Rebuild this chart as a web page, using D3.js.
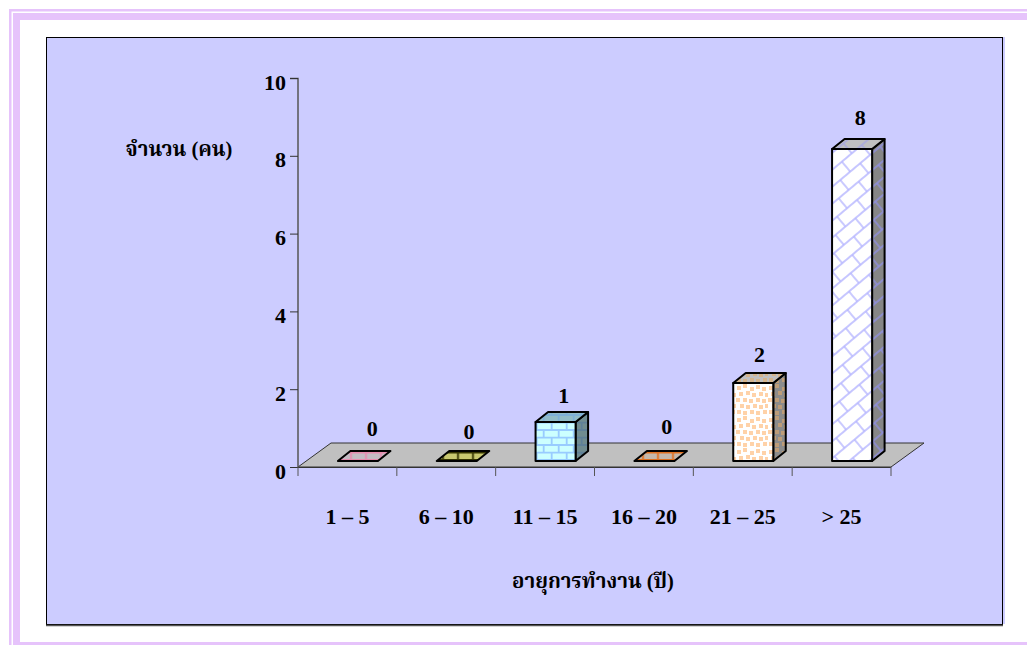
<!DOCTYPE html>
<html><head><meta charset="utf-8">
<script src="https://cdn.jsdelivr.net/npm/d3@7"></script>
<style>html,body{margin:0;padding:0;background:#fff;overflow:hidden}svg{display:block}
text{font-family:"Liberation Serif","Noto Serif Thai","Noto Sans Thai","DejaVu Serif",serif;font-weight:bold;fill:#000}</style>
</head><body><svg id="c" width="1027" height="645"></svg>
<script>
const categories=["1 – 5","6 – 10","11 – 15","16 – 20","21 – 25","> 25"];
const values=[0,0,1,0,2,8];
const yTicks=[0,2,4,6,8,10];
const yTitle="จำนวน (คน)";
const xTitle="อายุการทำงาน (ปี)";
const labelNudgeX=[8,6,2,6,0,2];
const labelNudgeY=[-22,-19,-16,-24,-18,-21];

const W=1027,H=645;
const svg=d3.select("#c");
const defs=svg.append("defs");
const lilac="#e6c3fb";

// page frame
const frame=svg.append("g");
[[9,9,W-9,2.5],[13,13,W-13,7],[9,9,2.5,H-9],[13,13,7,H-13],[0,642,W,3]].forEach(r=>{
  frame.append("rect").attr("x",r[0]).attr("y",r[1]).attr("width",r[2]).attr("height",r[3]).attr("fill",lilac);
});
frame.append("rect").attr("x",0).attr("y",642).attr("width",9).attr("height",3).attr("fill","#fff");
frame.append("rect").attr("x",11.5).attr("y",642).attr("width",1.5).attr("height",3).attr("fill","#fff");

// panel
svg.append("rect").attr("x",47).attr("y",37).attr("width",958).attr("height",587).attr("fill","#ccccff");
svg.append("rect").attr("x",46.5).attr("y",37.5).attr("width",956).attr("height",587).attr("fill","#ccccff").attr("stroke","#000").attr("stroke-width",1);
svg.append("path").attr("d","M46 625.5H1003").attr("stroke","#555").attr("stroke-width",1.5).attr("fill","none");

// scales
const x=d3.scaleBand().domain(categories).range([298,891]);
const y=d3.scaleLinear().domain([0,10]).range([467,78]);
const barW=x.bandwidth()*0.405;

// floor
const floorDX=33,floorDY=-24;
const fp=d3.path();
fp.moveTo(x.range()[0],y(0));
fp.lineTo(x.range()[0]+floorDX,y(0)+floorDY);
fp.lineTo(x.range()[1]+floorDX,y(0)+floorDY);
fp.lineTo(x.range()[1],y(0));
fp.closePath();
svg.append("path").attr("d",fp.toString()).attr("fill","#c0c0c0").attr("stroke","#333").attr("stroke-width",1);

// patterns
function brick(id,base,line,ox){
  const p=defs.append("pattern").attr("id",id).attr("patternUnits","userSpaceOnUse").attr("width",15).attr("height",15).attr("x",ox||0);
  p.append("rect").attr("width",15).attr("height",15).attr("fill",base);
  p.append("path").attr("d","M0 2.7H15M0 10H15M11.7 2.7V10M3.7 10V15M3.7 0V2.7").attr("stroke",line).attr("stroke-width",1.8).attr("fill","none");
}
function diag(id,base,line){
  const p=defs.append("pattern").attr("id",id).attr("patternUnits","userSpaceOnUse").attr("width",26).attr("height",26).attr("patternTransform","rotate(-40)");
  p.append("rect").attr("width",26).attr("height",26).attr("fill",base);
  p.append("path").attr("d","M0 2H26M0 15H26M8 2V15M21 15V26M21 0V2").attr("stroke",line).attr("stroke-width",1.4).attr("fill","none");
}
function dots(id,base,c){
  const p=defs.append("pattern").attr("id",id).attr("patternUnits","userSpaceOnUse").attr("width",32).attr("height",32);
  p.append("rect").attr("width",32).attr("height",32).attr("fill",base);
  [[1,2],[7,0],[14,3],[20,1],[26,3],[3,8],[10,7],[16,9],[23,8],[29,9],[0,14],[7,14],[13,15],[20,14],[26,15],[4,20],[10,21],[17,20],[23,21],[29,20],[1,26],[7,27],[14,26],[20,27],[27,26]]
    .forEach(d=>p.append("rect").attr("x",d[0]).attr("y",d[1]).attr("width",4).attr("height",4).attr("fill",c));
}
brick("t0","#c4bcc4","#e88cb0",-5.7);
brick("t1","#c8c870","#333300",-3.7);
brick("f2","#ccffff","#99ccff"); brick("t2","#92bcc8","#7fb0d8"); brick("s2","#708c90","#5f8098");
brick("t3","#c4b8ac","#e07020",1.3);
dots("f4","#ffffff","#ffd2a8"); dots("t4","#c0c0c0","#d4b48c"); dots("s4","#8c8c8c","#bd9c78");
diag("f5","#ffffff","#b4b4ff"); diag("t5","#c0c0c0","#a8a8e0"); diag("s5","#868686","#8f8fe0");

// bars
const bars=svg.append("g").attr("stroke","#000").attr("stroke-width",2).attr("stroke-linejoin","round");
const fx=c=>x(c)+x.bandwidth()/2-barW/2+10.5;
const base=y(0)-6;
const h=v=>(y(0)-y(v))*1.0025;
const dx=12.5,dy=-10;
values.forEach((v,i)=>{
  const c=categories[i],x0=fx(c),x1=x0+barW,b=base,t=base-h(v);
  const g=bars.append("g");
  if(v>0){
    g.append("path").attr("d",`M${x1} ${t}L${x1+dx} ${t+dy}L${x1+dx} ${b+dy}L${x1} ${b}Z`).attr("fill",`url(#s${i})`);
    g.append("rect").attr("x",x0).attr("y",t).attr("width",barW).attr("height",b-t).attr("fill",`url(#f${i})`);
  }
  g.append("path").attr("d",`M${x0} ${t}L${x0+dx} ${t+dy}L${x1+dx} ${t+dy}L${x1} ${t}Z`).attr("fill",`url(#t${i})`);
});

// value labels
svg.append("g").selectAll("text").data(values).join("text")
  .attr("x",(v,i)=>fx(categories[i])+barW/2+dx/2+labelNudgeX[i])
  .attr("y",(v,i)=>base-h(v)+dy+labelNudgeY[i]+7)
  .attr("text-anchor","middle").attr("font-size",22).text(d=>d);

// y axis
const ya=svg.append("g").attr("transform","translate(298,0)")
  .call(d3.axisLeft(y).tickValues(yTicks).tickSize(8).tickPadding(4).tickFormat(d3.format("d")));
ya.selectAll(".domain").attr("stroke","#555").attr("stroke-width",1.5).attr("d",`M-8 78.5H0V467`);
ya.selectAll("line").attr("stroke","#333").attr("stroke-width",1);
ya.selectAll("text").attr("font-size",22).attr("dy","0.5em").attr("fill","#000");

// x axis
const xa=svg.append("g").attr("transform",`translate(0,${y(0)})`)
  .call(d3.axisBottom(x).tickSize(0).tickPadding(57));
xa.selectAll(".domain").attr("stroke","#333").attr("stroke-width",1);
xa.selectAll("text").attr("font-size",22).attr("fill","#000").attr("dy","0");
xa.selectAll("path.domain").attr("d",`M298 0.5H891`);
const edges=[...categories.map(c=>x(c)),x.range()[1]];
xa.append("g").selectAll("line").data(edges).join("line")
  .attr("x1",d=>d).attr("x2",d=>d).attr("y1",0).attr("y2",9).attr("stroke","#555").attr("stroke-width",1);

// titles
svg.append("text").attr("x",179).attr("y",156).attr("text-anchor","middle").attr("font-size",20.5).text(yTitle);
svg.append("text").attr("x",593).attr("y",588).attr("text-anchor","middle").attr("font-size",20.5).text(xTitle);
</script></body></html>
